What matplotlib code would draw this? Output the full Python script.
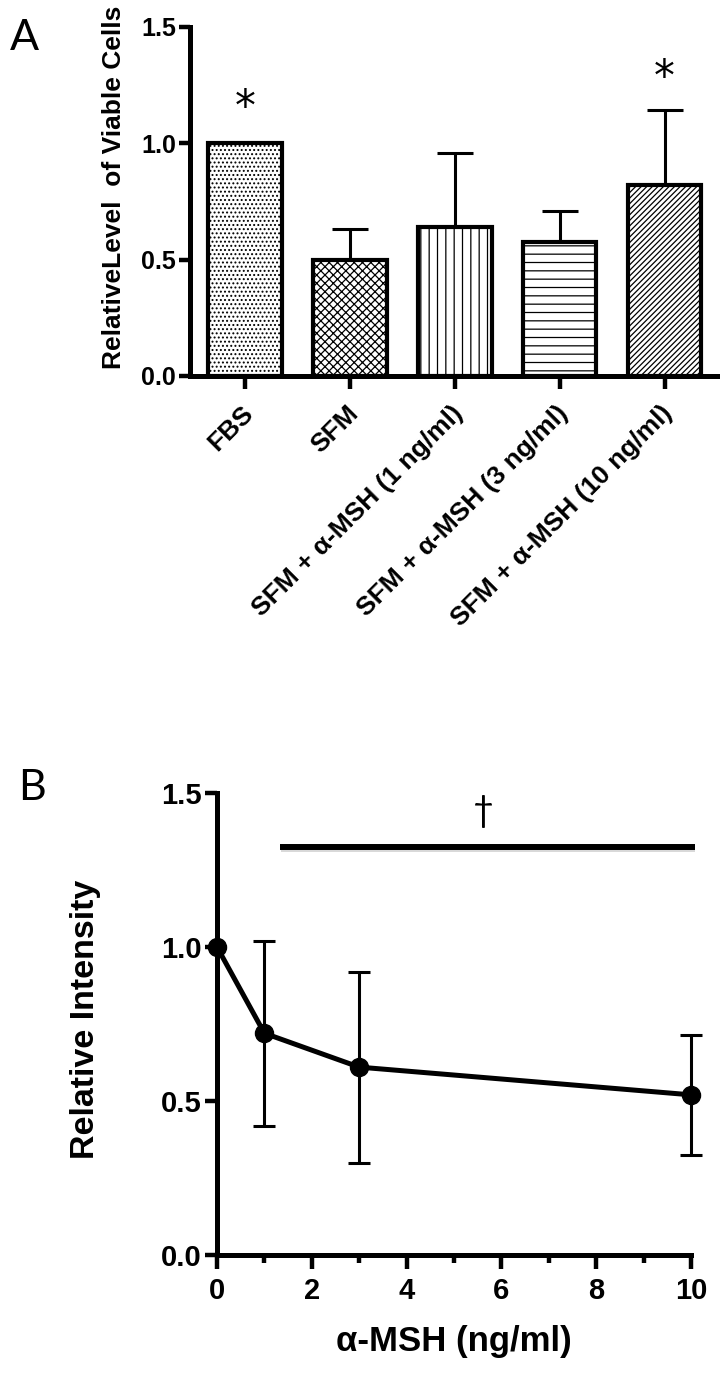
import matplotlib
matplotlib.use('Agg')
import matplotlib.pyplot as plt
import matplotlib.patheffects as pe
from matplotlib.ticker import MultipleLocator
import matplotlib.transforms as mtransforms
import numpy as np

plt.rcParams['font.family'] = ['Liberation Sans', 'DejaVu Sans']
plt.rcParams['hatch.linewidth'] = 0.9

# ---------------- data ----------------
groups = ['FBS', 'SFM', 'SFM + α-MSH (1 ng/ml)', 'SFM + α-MSH (3 ng/ml)',
          'SFM + α-MSH (10 ng/ml)']
viable = [1.0, 0.50, 0.64, 0.575, 0.82]
viable_err = [0.0, 0.13, 0.32, 0.135, 0.325]
bar_hatches = ['....', 'xxxx', '||', '--', '//////']
star_groups = [0, 4]
star_y = [1.15, 1.28]

dose = [0, 1, 3, 10]
intensity = [1.0, 0.72, 0.61, 0.52]
intensity_err = [0.0, 0.30, 0.31, 0.195]
sig_span = [1.33, 10.08]
sig_y = 1.325
dagger_x, dagger_y = 5.61, 1.44

yticks = [0.0, 0.5, 1.0, 1.5]
ytick_labels = ['0.0', '0.5', '1.0', '1.5']

W, H = 725, 1378
fig = plt.figure(figsize=(W / 100, H / 100), dpi=100)

# ---------------- Panel A ----------------
axA = fig.add_axes([190 / W, 1 - 376 / H, 527 / W, 349 / H])
x = np.arange(len(groups))
bars = axA.bar(x, viable, width=0.7, color='white', edgecolor='black',
               linewidth=3.0, zorder=2)
for b, h in zip(bars, bar_hatches):
    b.set_hatch(h)
err = np.array(viable_err)
mask = err > 0
axA.errorbar(x[mask], np.array(viable)[mask],
             yerr=[np.zeros(mask.sum()), err[mask]], fmt='none',
             ecolor='black', elinewidth=2.2, capsize=13, capthick=2.2, zorder=1)
for g, sy in zip(star_groups, star_y):
    axA.text(g, sy, '*', ha='center', va='center', fontsize=30,
             family='DejaVu Sans')

axA.set_xlim(-0.525, 4.5)
axA.set_ylim(0, 1.5)
for s in ['top', 'right']:
    axA.spines[s].set_visible(False)
for s in ['left', 'bottom']:
    axA.spines[s].set_linewidth(3.6)
axA.set_yticks(yticks)
axA.set_yticklabels(ytick_labels, fontsize=18, fontweight='bold')
axA.tick_params(axis='y', length=8, width=3.2, pad=2)
axA.set_xticks(x)
axA.set_xticklabels(groups, rotation=45, ha='right', rotation_mode='anchor',
                    fontsize=19, fontweight='bold')
axA.tick_params(axis='x', length=9, width=3.2, pad=9)
offset = mtransforms.ScaledTranslation(-4 / 100, 0, fig.dpi_scale_trans)
for lab in axA.get_xticklabels():
    lab.set_transform(lab.get_transform() + offset)
axA.set_ylabel('RelativeLevel  of Viable Cells', fontsize=19, fontweight='bold')
axA.yaxis.set_label_coords(-0.121, 0.54)

fig.text(10 / W, 1 - 19 / H, 'A', ha='left', va='top', fontsize=31,
         family='Lato')

# ---------------- Panel B ----------------
axB = fig.add_axes([217 / W, 1 - 1255 / H, 474 / W, 462 / H])
axB.plot(dose, intensity, '-o', color='black', lw=3.6, ms=13, clip_on=False,
         zorder=3)
ie = np.array(intensity_err)
m2 = ie > 0
axB.errorbar(np.array(dose)[m2], np.array(intensity)[m2], yerr=ie[m2],
             fmt='none', ecolor='black', elinewidth=2.2, capsize=8,
             capthick=2.2, zorder=2, clip_on=False)
axB.plot(sig_span, [sig_y, sig_y], color='black', lw=4.3, clip_on=False,
         solid_capstyle='butt',
         path_effects=[pe.SimpleLineShadow(offset=(0.5, -1.5), shadow_color='gray',
                                           alpha=0.3), pe.Normal()])
axB.text(dagger_x, dagger_y, '†', ha='center', va='center', fontsize=26,
         family='Lato')

axB.set_xlim(0, 10)
axB.set_ylim(0, 1.5)
for s in ['top', 'right']:
    axB.spines[s].set_visible(False)
for s in ['left', 'bottom']:
    axB.spines[s].set_linewidth(3.6)
axB.set_yticks(yticks)
axB.set_yticklabels(ytick_labels, fontsize=21, fontweight='bold')
axB.xaxis.set_major_locator(MultipleLocator(2))
axB.xaxis.set_minor_locator(MultipleLocator(1))
axB.tick_params(axis='x', which='major', length=10, width=3.2,
                labelsize=21, pad=6)
axB.tick_params(axis='x', which='minor', length=6, width=3.2)
axB.tick_params(axis='y', length=9, width=3.2, pad=2)
for lab in axB.get_xticklabels() + axB.get_yticklabels():
    lab.set_fontweight('bold')
axB.set_xlabel('α-MSH (ng/ml)', fontsize=25, fontweight='bold', labelpad=14)
axB.set_ylabel('Relative Intensity', fontsize=24.5, fontweight='bold')
axB.yaxis.set_label_coords(-0.245, 0.51)

fig.text(18 / W, 1 - 769 / H, 'B', ha='left', va='top', fontsize=31,
         family='Lato')

fig.savefig('out.png', dpi=100)
